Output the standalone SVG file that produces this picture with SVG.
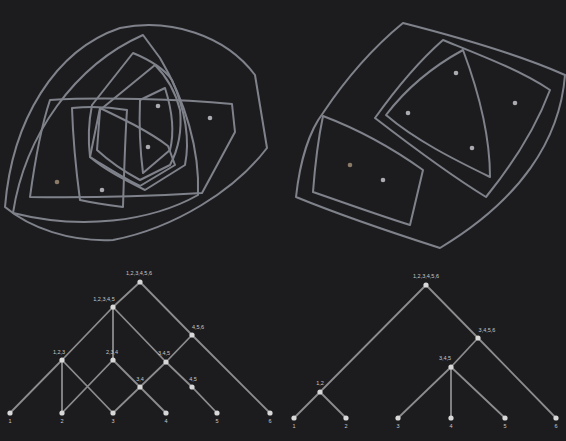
<svg xmlns="http://www.w3.org/2000/svg" width="566" height="441" viewBox="0 0 566 441">
<defs>
<filter id="soft" x="-5%" y="-5%" width="110%" height="110%"><feGaussianBlur stdDeviation="0.6"/></filter>
<style>
.reg{fill:none;stroke:#7f828a;stroke-width:2;stroke-linejoin:round}
.pt{fill:#a9abb0}
.pto{fill:#8a7a66}
.edge{stroke:#8c8c8e;stroke-width:1.8;fill:none}
.node{fill:#d8d8d8}
.lbl{font-family:"Liberation Sans",Arial,sans-serif;font-size:5.5px;fill:#c8c8c8;text-anchor:middle}
</style>
</defs>
<rect width="566" height="441" fill="#1c1c1f"/>

<g id="overlapping-clusters" filter="url(#soft)">
<path class="reg" d="M5,207 C12,120 55,50 120,28 C170,18 225,35 255,75 L267,148 C235,190 175,228 113,240 C70,242 30,228 5,207 Z"/>
<path class="reg" d="M13,213 C25,135 75,65 143,35 L160,58 C185,100 200,150 198,195 C150,222 80,230 13,213 Z"/>
<path class="reg" d="M50,100 C100,97 180,99 232,104 L235,132 L202,193 C150,196 80,198 30,197 C35,160 40,130 50,100 Z"/>
<path class="reg" d="M72,108 C90,106 110,107 127,110 C125,140 124,175 123,207 C108,205 94,203 80,200 C76,170 73,140 72,108 Z"/>
<path class="reg" d="M92,105 L133,53 C150,60 165,70 172,80 C185,110 190,140 185,165 L145,190 C125,180 105,170 90,157 C88,140 89,120 92,105 Z"/>
<path class="reg" d="M100,110 L155,65 C165,75 175,90 180,110 C182,130 178,150 170,165 L140,180 C125,172 110,162 97,150 Z"/>
<path class="reg" d="M140,100 L165,88 C172,110 175,130 170,150 L143,173 C140,150 139,125 140,100 Z"/>
<path class="reg" d="M100,108 C125,120 150,132 168,146 L175,165 L140,186 C120,176 105,166 90,157 Z"/>
<circle class="pto" cx="57" cy="182" r="2.3"/>
<circle class="pt" cx="102" cy="190" r="2.3"/>
<circle class="pt" cx="158" cy="106" r="2.3"/>
<circle class="pt" cx="210" cy="118" r="2.3"/>
<circle class="pt" cx="148" cy="147" r="2.3"/>
</g>

<g id="nested-clusters" filter="url(#soft)">
<path class="reg" d="M403,23 C450,35 520,55 565,75 C560,140 520,200 440,248 C390,232 340,215 296,197 C300,160 310,130 323,113 C345,80 370,50 403,23 Z"/>
<path class="reg" d="M323,116 C360,130 395,150 423,170 L410,225 C378,215 345,203 313,192 C315,165 318,140 323,116 Z"/>
<path class="reg" d="M443,40 C480,55 520,70 550,90 C535,130 512,165 486,197 C450,175 410,145 375,118 C395,90 418,62 443,40 Z"/>
<path class="reg" d="M463,50 C478,90 490,135 490,177 C455,160 415,140 386,115 C405,90 430,68 463,50 Z"/>
<circle class="pt" cx="456" cy="73" r="2.3"/>
<circle class="pt" cx="515" cy="103" r="2.3"/>
<circle class="pt" cx="408" cy="113" r="2.3"/>
<circle class="pt" cx="472" cy="148" r="2.3"/>
<circle class="pto" cx="350" cy="165" r="2.3"/>
<circle class="pt" cx="383" cy="180" r="2.3"/>
</g>

<g id="connectors">
<path class="edge" d="M140,282 L113,307 M140,282 L192,335 L270,413 M113,307 L62,360 M113,307 L113,360 M113,307 L166,362 M192,335 L166,362 M62,360 L10,413 M62,360 L62,413 M62,360 L113,413 M113,360 L62,413 M113,360 L140,387 L166,413 M166,362 L140,387 L113,413 M166,362 L192,387 L217,413"/>
<path class="edge" d="M426,285 L320,392 M320,392 L294,418 M320,392 L346,418 M426,285 L478,338 L556,418 M478,338 L451,367 M451,367 L398,418 M451,367 L451,418 M451,367 L505,418"/>
</g>

<g id="left-tree">
<g id="l-root"><circle class="node" cx="140" cy="282" r="2.6"/><text class="lbl" x="139" y="275">1,2,3,4,5,6</text></g>
<g id="l-a"><circle class="node" cx="113" cy="307" r="2.6"/><text class="lbl" x="104" y="301">1,2,3,4,5</text></g>
<g id="l-b"><circle class="node" cx="192" cy="335" r="2.6"/><text class="lbl" x="198" y="329">4,5,6</text></g>
<g id="l-c1"><circle class="node" cx="62" cy="360" r="2.6"/><text class="lbl" x="59" y="354">1,2,3</text></g>
<g id="l-c2"><circle class="node" cx="113" cy="360" r="2.6"/><text class="lbl" x="112" y="354">2,3,4</text></g>
<g id="l-c3"><circle class="node" cx="166" cy="362" r="2.6"/><text class="lbl" x="164" y="355">3,4,5</text></g>
<g id="l-d1"><circle class="node" cx="140" cy="387" r="2.6"/><text class="lbl" x="140" y="381">3,4</text></g>
<g id="l-d2"><circle class="node" cx="192" cy="387" r="2.6"/><text class="lbl" x="193" y="381">4,5</text></g>
<g id="l-leaf1"><circle class="node" cx="10" cy="413" r="2.6"/><text class="lbl" x="10" y="423">1</text></g>
<g id="l-leaf2"><circle class="node" cx="62" cy="413" r="2.6"/><text class="lbl" x="62" y="423">2</text></g>
<g id="l-leaf3"><circle class="node" cx="113" cy="413" r="2.6"/><text class="lbl" x="113" y="423">3</text></g>
<g id="l-leaf4"><circle class="node" cx="166" cy="413" r="2.6"/><text class="lbl" x="166" y="423">4</text></g>
<g id="l-leaf5"><circle class="node" cx="217" cy="413" r="2.6"/><text class="lbl" x="217" y="423">5</text></g>
<g id="l-leaf6"><circle class="node" cx="270" cy="413" r="2.6"/><text class="lbl" x="270" y="423">6</text></g>
</g>

<g id="right-tree">
<g id="r-root"><circle class="node" cx="426" cy="285" r="2.6"/><text class="lbl" x="426" y="278">1,2,3,4,5,6</text></g>
<g id="r-a"><circle class="node" cx="478" cy="338" r="2.6"/><text class="lbl" x="487" y="332">3,4,5,6</text></g>
<g id="r-b"><circle class="node" cx="451" cy="367" r="2.6"/><text class="lbl" x="445" y="360">3,4,5</text></g>
<g id="r-c"><circle class="node" cx="320" cy="392" r="2.6"/><text class="lbl" x="320" y="385">1,2</text></g>
<g id="r-leaf1"><circle class="node" cx="294" cy="418" r="2.6"/><text class="lbl" x="294" y="428">1</text></g>
<g id="r-leaf2"><circle class="node" cx="346" cy="418" r="2.6"/><text class="lbl" x="346" y="428">2</text></g>
<g id="r-leaf3"><circle class="node" cx="398" cy="418" r="2.6"/><text class="lbl" x="398" y="428">3</text></g>
<g id="r-leaf4"><circle class="node" cx="451" cy="418" r="2.6"/><text class="lbl" x="451" y="428">4</text></g>
<g id="r-leaf5"><circle class="node" cx="505" cy="418" r="2.6"/><text class="lbl" x="505" y="428">5</text></g>
<g id="r-leaf6"><circle class="node" cx="556" cy="418" r="2.6"/><text class="lbl" x="556" y="428">6</text></g>
</g>
</svg>
